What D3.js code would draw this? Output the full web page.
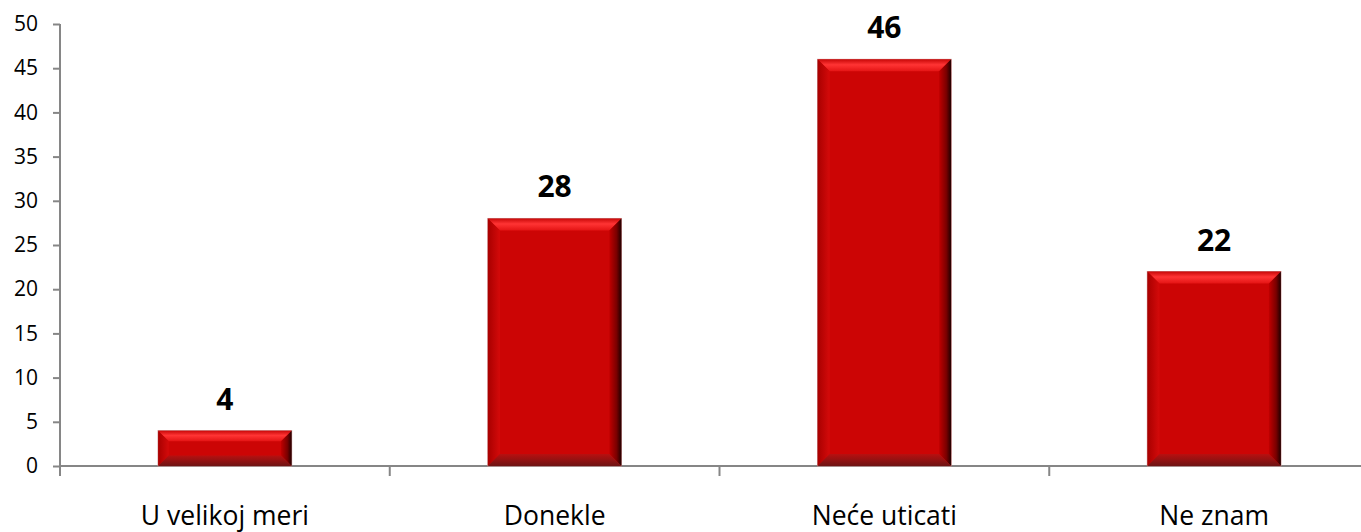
<!DOCTYPE html>
<html>
<head>
<meta charset="utf-8">
<script src="https://cdn.jsdelivr.net/npm/d3@7"></script>
<style>
  body { margin: 0; background: #fff; }
  svg { display: block; font-family: "Open Sans", sans-serif; }
</style>
</head>
<body>
<div id="chart"></div>
<script>
// data
var categories = ["U velikoj meri", "Donekle", "Neće uticati", "Ne znam"];
var values = [4, 28, 46, 22];
var yTicks = [0, 5, 10, 15, 20, 25, 30, 35, 40, 45, 50];

var svgWidth = 1361;
var svgHeight = 532;

var margin = {
    top: 24,
    left: 60,
    bottom: 66
};

var plotBottom = svgHeight - margin.bottom;

var svg = d3.select("#chart")
    .append("svg")
    .attr("width", svgWidth)
    .attr("height", svgHeight);

var x = d3.scaleBand()
    .domain(categories)
    .range([margin.left, 1379])
    .paddingInner(0.595)
    .paddingOuter(0.2975);

var y = d3.scaleLinear()
    .domain([0, 50])
    .range([plotBottom, margin.top]);

// gradients for the bevelled bars
var defs = svg.append("defs");

function grad(id, x2, y2, stops) {
    var g = defs.append("linearGradient")
        .attr("id", id)
        .attr("x1", 0).attr("y1", 0)
        .attr("x2", x2).attr("y2", y2);
    stops.forEach(function(s) {
        g.append("stop").attr("offset", s[0]).attr("stop-color", s[1]);
    });
}

grad("bevTop", 0, 1, [[0, "#c80808"], [0.45, "#ff3434"], [1, "#e41414"]]);
grad("bevLeft", 1, 0, [[0, "#a80000"], [1, "#d40a0a"]]);
grad("bevRight", 1, 0, [[0, "#c00000"], [0.6, "#7a0000"], [1, "#200000"]]);
grad("bevBottom", 0, 1, [[0, "#b81010"], [1, "#6e1414"]]);

// y axis
var yAxis = svg.append("g")
    .attr("transform", `translate(${margin.left}, 0)`)
    .call(d3.axisLeft(y).tickValues(yTicks).tickSize(7).tickPadding(15).tickSizeOuter(0))
    .attr("font-family", "'Open Sans', sans-serif")
    .attr("font-size", 21);

yAxis.select(".domain")
    .attr("stroke", "#868686")
    .attr("stroke-width", 2)
    .attr("d", `M0,${margin.top}V${plotBottom + 10}`);

yAxis.selectAll(".tick line")
    .attr("stroke", "#868686")
    .attr("stroke-width", 2);

yAxis.selectAll(".tick text")
    .attr("fill", "#000");

// x axis line + category separators
svg.append("line")
    .attr("x1", margin.left)
    .attr("x2", svgWidth)
    .attr("y1", plotBottom)
    .attr("y2", plotBottom)
    .attr("stroke", "#868686")
    .attr("stroke-width", 2);

svg.selectAll(".sep")
    .data(categories.slice(1))
    .enter()
    .append("line")
    .attr("class", "sep")
    .attr("x1", d => x(d) - x.step() * x.paddingInner() / 2)
    .attr("x2", d => x(d) - x.step() * x.paddingInner() / 2)
    .attr("y1", plotBottom)
    .attr("y2", plotBottom + 10)
    .attr("stroke", "#868686")
    .attr("stroke-width", 2);

// category labels
svg.selectAll(".cat")
    .data(categories)
    .enter()
    .append("text")
    .attr("class", "cat")
    .attr("x", d => x(d) + x.bandwidth() / 2)
    .attr("y", 525)
    .attr("text-anchor", "middle")
    .attr("font-size", 26.5)
    .attr("fill", "#000")
    .text(d => d);

// bars
var bars = svg.selectAll(".bar")
    .data(values)
    .enter()
    .append("g")
    .attr("class", "bar");

bars.each(function(d, i) {
    var g = d3.select(this);
    var x0 = x(categories[i]);
    var x1 = x0 + x.bandwidth();
    var y0 = y(d);
    var y1 = y(0);
    var b = Math.min(12, (y1 - y0) * 0.3);

    g.append("rect")
        .attr("x", x0)
        .attr("y", y0)
        .attr("width", x1 - x0)
        .attr("height", y1 - y0)
        .attr("fill", "#cc0505")
        .attr("stroke", "#c99090")
        .attr("stroke-width", 1);

    var pts = {
        top: [[x0, y0], [x1, y0], [x1 - b, y0 + b], [x0 + b, y0 + b]],
        left: [[x0, y0], [x0 + b, y0 + b], [x0 + b, y1 - b], [x0, y1]],
        right: [[x1, y0], [x1, y1], [x1 - b, y1 - b], [x1 - b, y0 + b]],
        bottom: [[x0, y1], [x0 + b, y1 - b], [x1 - b, y1 - b], [x1, y1]]
    };
    var fills = { top: "url(#bevTop)", left: "url(#bevLeft)", right: "url(#bevRight)", bottom: "url(#bevBottom)" };

    Object.keys(pts).forEach(function(k) {
        g.append("polygon")
            .attr("points", pts[k].map(p => p.join(",")).join(" "))
            .attr("fill", fills[k]);
    });
});

// value labels
svg.selectAll(".val")
    .data(values)
    .enter()
    .append("text")
    .attr("class", "val")
    .attr("x", (d, i) => x(categories[i]) + x.bandwidth() / 2)
    .attr("y", d => y(d) - 21)
    .attr("text-anchor", "middle")
    .attr("font-size", 30)
    .attr("font-weight", "bold")
    .attr("fill", "#000")
    .text(d => d);
</script>
</body>
</html>
